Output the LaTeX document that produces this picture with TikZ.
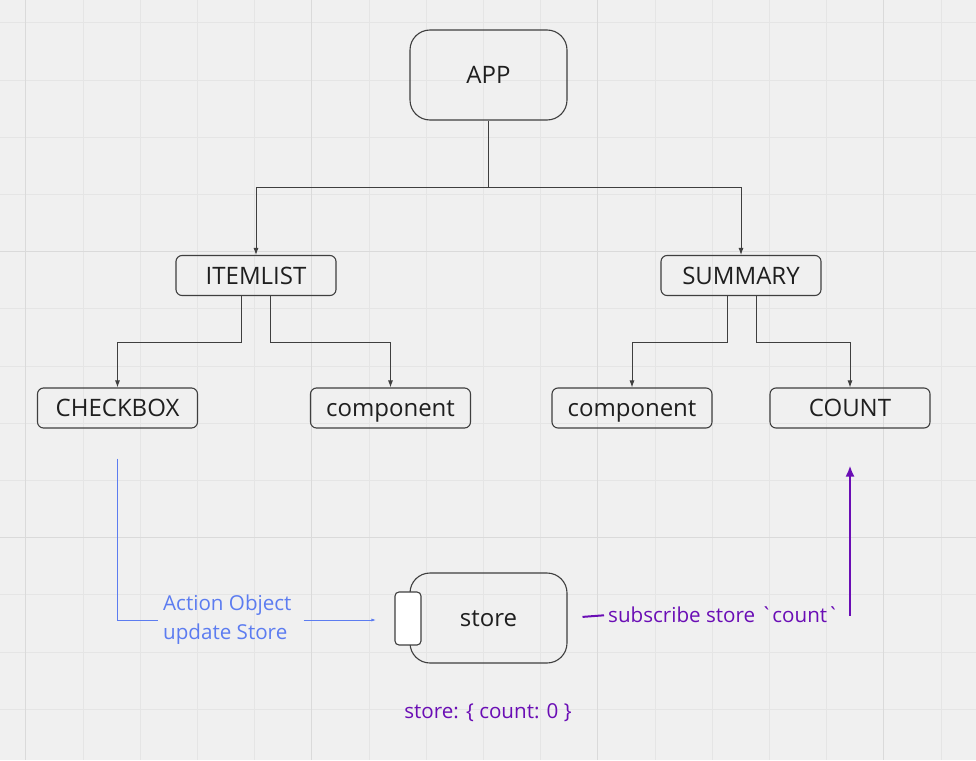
\documentclass[tikz,border=0pt]{standalone}
\usepackage{fontspec}
\setmainfont{Open Sans}
\usetikzlibrary{arrows.meta}

\definecolor{board}{HTML}{F0F0F0}
\definecolor{gridminor}{HTML}{E5E5E5}
\definecolor{gridmajor}{HTML}{DADADA}
\definecolor{edge}{HTML}{3F3F3F}
\definecolor{ink}{HTML}{1F1F1F}
\definecolor{actionblue}{HTML}{5C7CF0}
\definecolor{storepurple}{HTML}{6A0DB5}

\begin{document}
\begin{tikzpicture}[x=1pt,y=-1pt,
  box/.style={draw=edge,line width=1.1pt,rounded corners=6pt,minimum width=160pt,
    minimum height=40pt,inner sep=0pt,text=ink,text height=17pt,text depth=0pt,
    font=\fontsize{24}{28}\selectfont},
  bigbox/.style={box,rounded corners=20pt,minimum width=157pt,minimum height=90pt},
  tree/.style={draw=edge,line width=0.9pt,-{Latex[length=7pt,width=5pt]}},
  action/.style={color=actionblue,line width=1pt},
  subscribe/.style={color=storepurple,line width=2pt},
  note/.style={inner sep=0pt,font=\fontsize{20.6}{29}\selectfont}]

\fill[board] (0,0) rectangle (976,760);
\useasboundingbox (0,0) rectangle (976,760);
\foreach \i in {0,...,16} \draw[gridminor,line width=0.8pt] (25.7+57.2*\i,0) -- (25.7+57.2*\i,760);
\foreach \j in {0,...,12} \draw[gridminor,line width=0.8pt] (0,22.7+57.2*\j) -- (976,22.7+57.2*\j);
\foreach \i in {0,5,10,15} \draw[gridmajor,line width=0.8pt] (25.7+57.2*\i,0) -- (25.7+57.2*\i,760);
\foreach \j in {4,9} \draw[gridmajor,line width=0.8pt] (0,22.7+57.2*\j) -- (976,22.7+57.2*\j);

\node[bigbox] (app) at (488.5,75) {APP};

\node[box] (itemlist) at (256,275.5) {ITEMLIST};
\node[box] (summary) at (741,275.5) {SUMMARY};

\node[box] (checkbox) at (117.5,408) {CHECKBOX};
\node[box] (compleft) at (390.5,408) {component};
\node[box] (compright) at (632,408) {component};
\node[box] (count) at (850,408) {COUNT};

\node[bigbox] (store) at (488.5,618) {store};
\node[draw=edge,line width=1.1pt,fill=white,rounded corners=4pt,minimum width=26pt,
  minimum height=53pt,inner sep=0pt] (tab) at (408,618.5) {};

\coordinate (split) at (488.5,187);
\draw[edge,line width=0.9pt] (app) -- (split);
\draw[tree] (split) -| (itemlist);
\draw[tree] (split) -| (summary);

\draw[tree] ([xshift=-15pt]itemlist.south) -- ++(0,46) -| (checkbox);
\draw[tree] ([xshift=14pt]itemlist.south) -- ++(0,46) -| (compleft);
\draw[tree] ([xshift=-14pt]summary.south) -- ++(0,46) -| (compright);
\draw[tree] ([xshift=15pt]summary.south) -- ++(0,46) -| (count);

\node[note,text=actionblue,align=left,anchor=west] (update) at (163,620)
  {Action Object\\update Store};
\draw[action,shorten <=30pt,shorten >=5pt] (checkbox.south) |- (update.west);
\draw[action,-{Latex[length=5pt,width=3pt]},shorten <=12pt,shorten >=18pt]
  (update.east) -- (update.east -| tab.west);

\node[note,text=storepurple,anchor=west] (listen) at (608,615)
  {subscribe store \textasciigrave count\textasciigrave};
\draw[subscribe,shorten <=15pt,shorten >=4pt] (store.east) -- (listen.west);
\draw[subscribe,-{Latex[length=11pt,width=9pt]},shorten <=10pt,shorten >=37pt]
  (listen.east) -| (count.south);

\node[note,text=storepurple] (state) at (488,713) {store: \{ count: 0 \}};

\end{tikzpicture}
\end{document}
